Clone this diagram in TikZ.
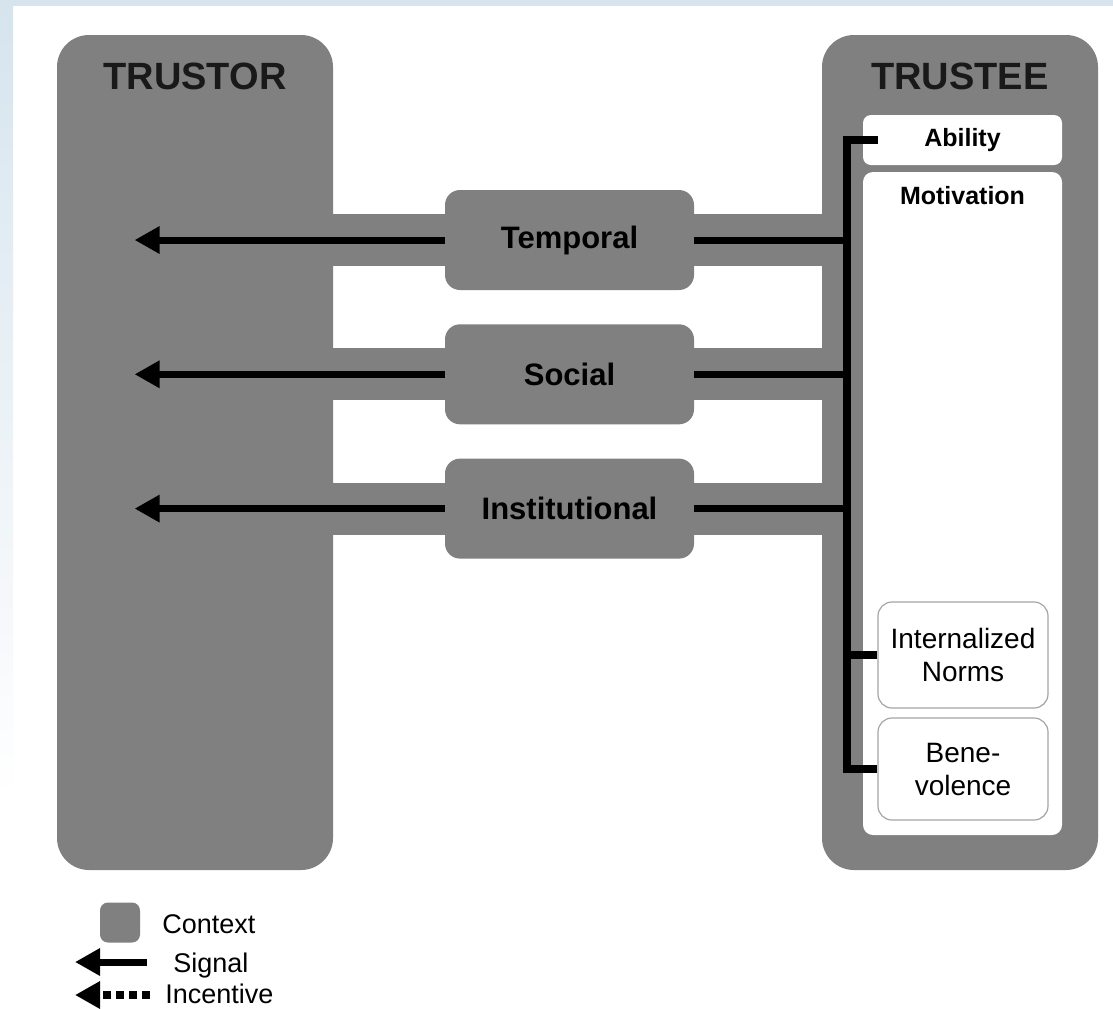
\documentclass[tikz,border=0pt]{standalone}
\usepackage{fontspec}
\setmainfont{Liberation Sans}
\usetikzlibrary{positioning,arrows.meta,backgrounds}

\definecolor{ctxgray}{RGB}{128,128,128}
\definecolor{bgblue}{RGB}{214,228,238}
\definecolor{normline}{RGB}{165,165,165}

\begin{document}
\begin{tikzpicture}[
  x=0.5pt, y=-0.5pt,
  party/.style={fill=ctxgray, rounded corners=16pt, minimum width=138pt, minimum height=417.5pt, inner sep=0pt},
  title/.style={font=\fontsize{19}{22}\selectfont\bfseries, text=black!90},
  ctx/.style={fill=ctxgray, rounded corners=7.5pt, minimum width=124.5pt, minimum height=50pt, font=\fontsize{15.5}{18}\selectfont\bfseries},
  band/.style={ctxgray, line width=26pt},
  panel/.style={fill=white, minimum width=99.5pt, inner sep=0pt},
  panelText/.style={font=\fontsize{12.5}{15}\selectfont\bfseries},
  trait/.style={draw=normline, line width=0.6pt, fill=white, rounded corners=7pt, minimum width=85pt, align=center, font=\fontsize{14}{16.5}\selectfont},
  signal/.style={-{Triangle[length=12.5pt,width=13pt]}, line width=3.5pt},
  incentive/.style={signal, dash pattern=on 4pt off 2.5pt, line width=4pt},
  link/.style={line width=3.5pt},
  bus/.style={line width=4pt},
  legend/.style={font=\fontsize{13.5}{16}\selectfont, anchor=base west, inner sep=0pt}]

\useasboundingbox (0,0) rectangle (1113,1008);

% The two parties
\node[party] (trustor) at (195,452.5) {};
\node[party] (trustee) at (960,452.5) {};
\node[title] (trustorTitle) at ([yshift=-21pt]trustor.north) {TRUSTOR};
\node[title] (trusteeTitle) at ([yshift=-21pt]trustee.north) {TRUSTEE};

% Contexts in between
\node[ctx] (temporal) at (569.5,240) {Temporal};
\node[ctx, below=16.75pt of temporal] (social) {Social};
\node[ctx, below=16.75pt of social] (institutional) {Institutional};

% Inside the trustee
\node[panel, rounded corners=4pt, minimum height=25pt] (ability) at (962.5,140) {};
\node[panelText] at (ability) {Ability};
\node[panel, rounded corners=5pt, minimum height=331.5pt] (motivation) at (962.5,503.5) {};
\node[panelText] (motivationLabel) at ([yshift=-12pt]motivation.north) {Motivation};
\node[trait, minimum height=53pt] (norms) at (963,655) {Internalized\\Norms};
\node[trait, minimum height=51pt] (benevolence) at (963,769) {Bene-\\volence};

\coordinate (bus) at ([xshift=-8pt]motivation.west);

% Signals from the trustee through each context
\foreach \c in {temporal,social,institutional}{
  \coordinate (\c-tip) at ([xshift=-155pt]\c.west);
  \draw[signal] (\c.west) -- (\c-tip);
  \draw[link] (\c.east) -- (bus |- \c);
}
\draw[bus] ([xshift=7.5pt]ability.west) -| (bus |- benevolence) -- (benevolence.west);
\draw[bus] (bus |- norms) -- (norms.west);

% Legend
\node[fill=ctxgray, rounded corners=4pt, minimum size=20pt, inner sep=0pt] (ctxKey) at (120,922.5) {};
\node[legend] (ctxText) at (162,933) {Context};
\coordinate (sigTail) at (147,962);
\coordinate (sigTip) at (75,962);
\draw[signal] (sigTail) -- (sigTip);
\node[legend] (sigText) at (173,972) {Signal};
\coordinate (incTail) at (150,995);
\coordinate (incTip) at (75,995);
\draw[incentive] (incTail) -- (incTip);
\node[legend] (incText) at (165,1003) {Incentive};

% Page and context bands behind everything
\begin{scope}[on background layer]
  \fill[white] (0,0) rectangle (1113,1008);
  \shade[top color=bgblue, bottom color=white] (0,0) rectangle (13,800);
  \fill[bgblue] (0,0) rectangle (1113,6);
  \foreach \c in {temporal,social,institutional}
    \draw[band] (trustor.east |- \c) -- (trustee.west |- \c);
\end{scope}

\end{tikzpicture}
\end{document}
